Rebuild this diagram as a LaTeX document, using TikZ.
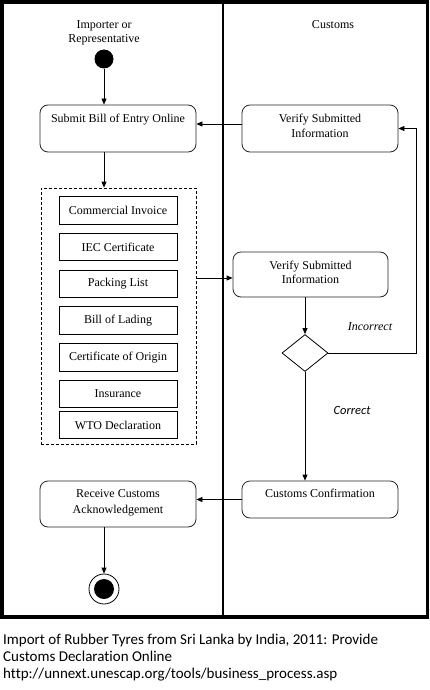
\documentclass[tikz,border=0pt]{standalone}
\usepackage{fontspec}
\setmainfont{Liberation Serif}
\newfontfamily\capfont[Ligatures=NoCommon]{Carlito}
\usetikzlibrary{shapes.geometric,arrows.meta}
\begin{document}
\begin{tikzpicture}[x=1pt,y=-1pt,
  every node/.style={font=\fontsize{12}{14}\selectfont},
  rbox/.style={draw=black!85, line width=0.8pt, rounded corners=8pt, inner sep=0pt, minimum width=156pt},
  docbox/.style={draw, line width=0.8pt, inner sep=0pt, minimum width=118pt, minimum height=27.5pt},
  arr/.style={-{Triangle[length=6pt,width=5pt]}, line width=0.8pt},
  txt/.style={anchor=base, inner sep=0pt},
  captext/.style={anchor=base west, inner sep=0pt, font=\capfont\fontsize{15}{17}\selectfont}]
\useasboundingbox (0,0) rectangle (430,690);
\fill[white] (0,0) rectangle (430,690);
% swimlanes
\draw[line width=3.5pt] (2,2) rectangle (427.5,617);
\draw[line width=2pt] (223,2) -- (223,617);
\node[txt] (h1) at (104,29) {Importer or};
\node[txt] (h2) at (104,43) {Representative};
\node[txt] (h3) at (333,29) {Customs};
% start
\node[circle, fill=black, minimum size=19pt, inner sep=0pt] (start) at (104,59) {};
% boxes
\node[rbox, minimum height=47pt] (submit) at (118,128.5) {};
\node[txt] (submitt) at (118,123) {Submit Bill of Entry Online};
\node[rbox, minimum height=47pt] (verify1) at (320,128.5) {};
\node[txt] (v1a) at (320,123) {Verify Submitted};
\node[txt] (v1b) at (320,137) {Information};
% dashed box with documents
\node[draw, dash pattern=on 3pt off 2pt, line width=0.8pt, minimum width=155pt, minimum height=256pt, inner sep=0pt] (dbox) at (118.5,316) {};
\node[docbox] (d1) at (118,210.5) {Commercial Invoice};
\node[docbox] (d2) at (118,247) {IEC Certificate};
\node[docbox] (d3) at (118,284) {Packing List};
\node[docbox] (d4) at (118,320.5) {Bill of Lading};
\node[docbox] (d5) at (118,357.5) {Certificate of Origin};
\node[docbox] (d6) at (118,394) {Insurance};
\node[docbox] (d7) at (118,425) {WTO Declaration};
% verify 2
\node[rbox, minimum width=155pt, minimum height=45pt] (verify2) at (310.5,274.5) {};
\node[txt] (v2a) at (310.5,269) {Verify Submitted};
\node[txt] (v2b) at (310.5,283) {Information};
% decision
\node[diamond, draw, line width=0.8pt, minimum width=46pt, minimum height=37pt, inner sep=0pt] (dia) at (305,353) {};
\node[inner sep=0pt, font=\itshape\fontsize{12}{14}\selectfont] (inc) at (370,327) {Incorrect};
\node[inner sep=0pt, font=\capfont\itshape\fontsize{12.5}{14}\selectfont] (cor) at (352,410) {Correct};
% confirmation / receive
\node[rbox, minimum height=37pt] (confirm) at (320,499.5) {};
\node[txt] (ct) at (320,497) {Customs Confirmation};
\node[rbox, minimum height=46pt] (receive) at (118,504) {};
\node[txt] (ra) at (118,497) {Receive Customs};
\node[txt] (rb) at (118,513) {Acknowledgement};
% end
\node[circle, draw, line width=0.8pt, minimum size=30pt, inner sep=0pt] (endc) at (104,589) {};
\fill (endc.center) circle (10);
% connectors
\draw[arr] (start.south) -- (start |- submit.north);
\draw[arr] ([yshift=4.5pt]verify1.west) -- ([yshift=4.5pt]verify1.west -| submit.east);
\draw[arr] (start |- submit.south) -- (start |- dbox.north);
\draw[arr] ([yshift=-3.5pt]verify2.west -| dbox.east) -- ([yshift=-3.5pt]verify2.west);
\draw[arr] (dia |- verify2.south) -- (dia.north);
\draw[arr] (dia.east) -- ++(88,0) |- (verify1.east);
\draw[arr] (dia.south) -- (dia |- confirm.north);
\draw[arr] (confirm.west) -- (confirm.west -| receive.east);
\draw[arr] (start |- receive.south) -- (endc.north);
% caption
\node[captext] (c1) at (3,644) {Import of Rubber Tyres from Sri Lanka by India, 2011: Provide};
\node[captext] (c2) at (3,661) {Customs Declaration Online};
\node[captext] (c3) at (3,678) {http://unnext.unescap.org/tools/business\_process.asp};
\end{tikzpicture}
\end{document}
